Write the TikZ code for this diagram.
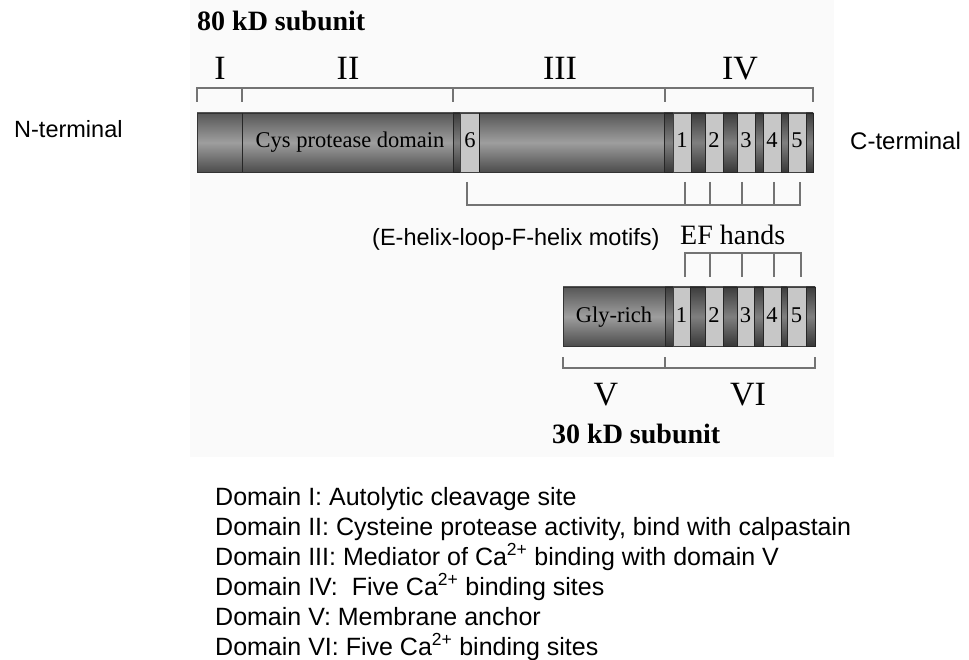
\documentclass[tikz,border=0pt]{standalone}
\usepackage{fontspec}
\setmainfont{Liberation Serif}
\setsansfont{Liberation Sans}
\usepackage{tikz}

\tikzset{
	bracket/.style={draw=black!55, line width=1.3pt},
	barbody/.style={top color=black!66, bottom color=black!70, middle color=black!38, draw=black!80, line width=0.6pt},
	barjoint/.style={top color=black!76, bottom color=black!78, middle color=black!50, draw=black!85, line width=0.6pt},
	efband/.style={fill=black!22, draw=black!75, line width=0.6pt},
	lbl/.style={inner sep=0pt, anchor=base},
	lblw/.style={inner sep=0pt, anchor=base west},
}
\newcommand{\caion}{Ca\textsuperscript{2+}}
\newcommand{\fsz}[1]{\fontsize{#1}{#1}\selectfont}

\begin{document}
\begin{tikzpicture}[x=1pt,y=-1pt]
			\useasboundingbox (0,0) rectangle (969,660);
			\fill[black!2] (190,0) rectangle (834,457);
			% 80 kD subunit
			\draw (197,31) node (title80) [lblw, font=\bfseries\fsz{28}] {80 kD subunit};
			\foreach \x / \r in { 220 / I, 348 / II, 560 / III, 740 / IV }
			\draw (\x,80) node (dom\r) [lbl, font=\fsz{34}] {\r};
			\draw[bracket] (197,102) -- (197,88) -- (813,88) -- (813,102);
			\foreach \x in { 242,453,665 }
			\draw[bracket] (\x,88) -- (\x,102);
			\draw[barbody] (197,113) rectangle (813,172);
			\draw[black!85, line width=1pt] (242,113) -- (242,172);
			\draw[barjoint] (453,113) rectangle (460,172);
			\draw[efband] (460,113) rectangle (479,172);
			\draw[black!90, line width=1pt] (479,113) -- (479,172);
			\draw (470,148) node (ef80-6) [lbl, font=\fsz{22.5}] {6};
			\draw[barjoint] (664,113) rectangle (673,172);
			\foreach \a / \b / \n in { 673/691/1, 705/723/2, 737/755/3, 763/781/4, 788/806/5 }
			{
				\draw[efband] (\a,113) rectangle (\b,172);
				\draw ({(\a+\b)/2},148) node (ef80-\n) [lbl, font=\fsz{22.5}] {\n};
			}
			\foreach \a / \b in { 691/705, 723/737, 755/763, 781/788, 806/813 }
			\draw[barjoint] (\a,113) rectangle (\b,172);
			\draw (350,148) node (cys) [lbl, font=\fsz{22.5}] {Cys protease domain};
			\draw (14,138) node (nterm) [lblw, font=\sffamily\fsz{23.5}] {N-terminal};
			\draw (850,150) node (cterm) [lblw, font=\sffamily\fsz{24}] {C-terminal};
			% EF hand motifs
			\draw[bracket] (467,182) -- (467,205) -- (800,205) -- (800,182);
			\foreach \x in { 685,710,742,774 }
			\draw[bracket] (\x,182) -- (\x,205);
			\draw (372,246) node (motifs) [lblw, font=\sffamily\fsz{23.5}] {(E-helix-loop-F-helix motifs)};
			\draw (680,245) node (efhands) [lblw, font=\fsz{28}] {EF hands};
			\draw[bracket] (685,277) -- (685,253) -- (801,253) -- (801,277);
			\foreach \x in { 710,742,774 }
			\draw[bracket] (\x,253) -- (\x,277);
			% 30 kD subunit
			\draw[barbody] (563,287) rectangle (815,346);
			\draw[barjoint] (665,287) rectangle (673,346);
			\foreach \a / \b / \n in { 673/690/1, 705/723/2, 737/754/3, 763/781/4, 787/806/5 }
			{
				\draw[efband] (\a,287) rectangle (\b,346);
				\draw ({(\a+\b)/2},323) node (ef30-\n) [lbl, font=\fsz{22.5}] {\n};
			}
			\foreach \a / \b in { 690/705, 723/737, 754/763, 781/787, 806/815 }
			\draw[barjoint] (\a,287) rectangle (\b,346);
			\draw (614,323) node (gly) [lbl, font=\fsz{22.5}] {Gly-rich};
			\draw[bracket] (563,357) -- (563,368) -- (815,368) -- (815,357);
			\draw[bracket] (665,357) -- (665,368);
			\draw (606,405) node (domV) [lbl, font=\fsz{34}] {V};
			\draw (748,405) node (domVI) [lbl, font=\fsz{34}] {VI};
			\draw (552,443) node (title30) [lblw, font=\bfseries\fsz{28}] {30 kD subunit};
			% domain functions
			\foreach \t [count=\i] in { {Domain I: Autolytic cleavage site},
				{Domain II: Cysteine protease activity, bind with calpastain},
				{Domain III: Mediator of \caion{} binding with domain V},
				{Domain IV:\ \ Five \caion{} binding sites},
				{Domain V: Membrane anchor},
				{Domain VI: Five \caion{} binding sites} }
			\draw (215,475+30*\i) node (note\i) [lblw, font=\sffamily\fsz{25}] {\t};
	\end{tikzpicture}
\end{document}
